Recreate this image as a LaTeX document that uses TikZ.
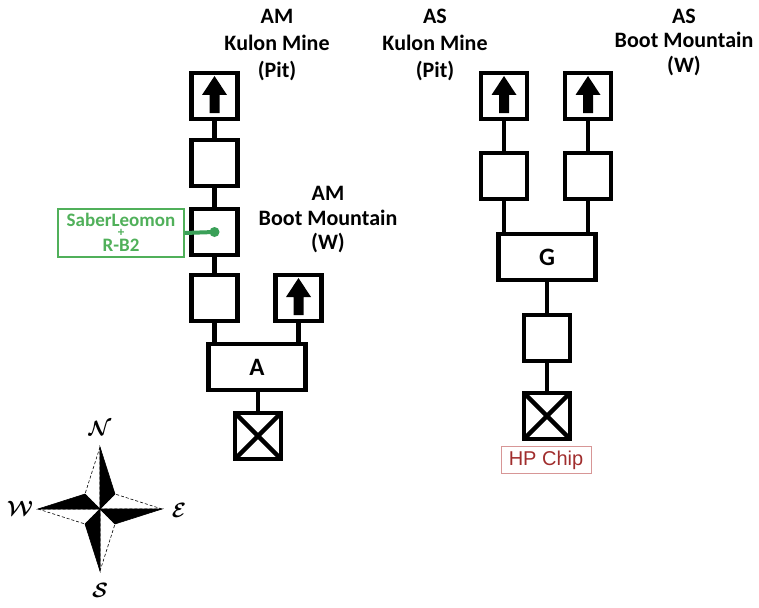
\documentclass[tikz,border=0pt]{standalone}
\usepackage{fontspec}
\setmainfont{Carlito}
\newfontfamily\chipfont{Liberation Sans}
\usepackage{tikz}
\usetikzlibrary{positioning}

\definecolor{linkgreen}{RGB}{58,160,88}
\definecolor{textgreen}{RGB}{80,176,90}
\definecolor{chipred}{RGB}{160,45,45}
\definecolor{chipframe}{RGB}{215,150,150}

\tikzset{
  room/.style={draw, line width=4.5pt, minimum width=46pt, minimum height=46pt,
    inner sep=0pt, outer sep=0pt, fill=white},
  hall/.style={room, minimum width=97pt, font=\fontsize{25}{26}\selectfont\bfseries},
  link/.style={line width=4.5pt},
  place/.style={align=center, font=\fontsize{22}{27}\selectfont\bfseries},
  placeB/.style={align=center, font=\fontsize{22}{24.5}\selectfont\bfseries},
  note/.style={anchor=base, inner sep=0pt, text=textgreen,
    font=\fontsize{19}{19}\selectfont\bfseries},
  dir/.style={font=\fontsize{22}{22}\selectfont\boldmath}
}

% up arrow inside an exit room
\newcommand{\exitarrow}[1]{%
  \fill ([yshift=20pt]#1.center) -- ([xshift=12.5pt,yshift=1pt]#1.center)
    -- ([xshift=5pt,yshift=1pt]#1.center) -- ([xshift=5pt,yshift=-17pt]#1.center)
    -- ([xshift=-5pt,yshift=-17pt]#1.center) -- ([xshift=-5pt,yshift=1pt]#1.center)
    -- ([xshift=-12.5pt,yshift=1pt]#1.center) -- cycle;}
% crossed room (entrance)
\newcommand{\crossroom}[1]{%
  \draw[link] (#1.north west) -- (#1.south east);
  \draw[link] (#1.south west) -- (#1.north east);}

\begin{document}
\begin{tikzpicture}[x=1pt, y=-1pt, line join=miter]
  \useasboundingbox (0,0) rectangle (759,607);

  % AM column
  \node[room] (amexit) at (214.5,96) {};
  \node[room] (am2) at (214.5,163) {};
  \node[room] (am3) at (214.5,232) {};
  \node[room] (am4) at (214.5,298) {};
  \node[room] (bootexit) at (298.5,298) {};
  \node[hall] (hallA) at (257,367) {A};
  \node[room] (amin) at (258,436) {};
  \draw[link] (amexit) -- (am2);
  \draw[link] (am2) -- (am3);
  \draw[link] (am3) -- (am4);
  \draw[link] (am4.south) -- (am4.south |- hallA.north);
  \draw[link] (bootexit.south) -- (bootexit.south |- hallA.north);
  \draw[link] (amin.north) -- (amin.north |- hallA.south);
  \exitarrow{amexit}
  \exitarrow{bootexit}
  \crossroom{amin}

  % AS column
  \node[room] (asexit) at (504,96) {};
  \node[room] (as2) at (504,176) {};
  \node[room] (asbexit) at (588,96) {};
  \node[room] (asb2) at (588,176) {};
  \node[hall] (hallG) at (547,257) {G};
  \node[room] (as3) at (547,338) {};
  \node[room] (asin) at (547,416) {};
  \draw[link] (asexit) -- (as2);
  \draw[link] (asbexit) -- (asb2);
  \draw[link] (as2.south) -- (as2.south |- hallG.north);
  \draw[link] (asb2.south) -- (asb2.south |- hallG.north);
  \draw[link] (hallG) -- (as3);
  \draw[link] (as3) -- (asin);
  \exitarrow{asexit}
  \exitarrow{asbexit}
  \crossroom{asin}

  % labels
  \node[place] (amkulon) at (277,45) {AM\\Kulon Mine\\(Pit)};
  \node[placeB] (amboot) at (328,220) {AM\\Boot Mountain\\(W)};
  \node[place] (askulon) at (435,45) {AS\\Kulon Mine\\(Pit)};
  \node[placeB] (asboot) at (684,42) {AS\\Boot Mountain\\(W)};

  % partner note
  \node[draw=textgreen, line width=1.2pt, minimum width=126pt, minimum height=48pt,
    inner sep=0pt] (saber) at (121,233) {};
  \node[note] (saber1) at (121,226) {SaberLeomon};
  \node[note, font=\fontsize{13}{13}\selectfont\bfseries] (saber2) at (121,236.5) {+};
  \node[note] (saber3) at (121,251) {R-B2};
  \draw[linkgreen, line width=4pt] (saber.east) -- (am3.center);
  \fill[linkgreen] (am3.center) circle (5pt);

  \node[draw=chipframe, line width=1pt, text=chipred, inner sep=2pt,
    minimum width=90pt, minimum height=27pt, font=\chipfont\fontsize{20}{22}\selectfont]
    (chip) at (546,460) {HP Chip};

  % compass
  \coordinate (cc) at (100,509);
  \coordinate (cn) at (100,447);
  \coordinate (cs) at (100,571);
  \coordinate (cw) at (38,509);
  \coordinate (ce) at (162,509);
  \coordinate (cne) at (115,494);
  \coordinate (cnw) at (85,494);
  \coordinate (cse) at (115,524);
  \coordinate (csw) at (85,524);
  \draw[densely dashed, line width=0.6pt] (cn) -- (cnw) -- (cc) -- cycle;
  \draw[densely dashed, line width=0.6pt] (ce) -- (cne) -- (cc) -- cycle;
  \draw[densely dashed, line width=0.6pt] (cs) -- (cse) -- (cc) -- cycle;
  \draw[densely dashed, line width=0.6pt] (cw) -- (csw) -- (cc) -- cycle;
  \filldraw[line width=0.6pt] (cn) -- (cne) -- (cc) -- cycle;
  \filldraw[line width=0.6pt] (ce) -- (cse) -- (cc) -- cycle;
  \filldraw[line width=0.6pt] (cs) -- (csw) -- (cc) -- cycle;
  \filldraw[line width=0.6pt] (cw) -- (cnw) -- (cc) -- cycle;
  \node[dir] (north) at (100,428) {$\mathcal{N}$};
  \node[dir] (south) at (100,590) {$\mathcal{S}$};
  \node[dir] (west) at (20,508) {$\mathcal{W}$};
  \node[dir] (east) at (179,510) {$\mathcal{E}$};
\end{tikzpicture}
\end{document}
